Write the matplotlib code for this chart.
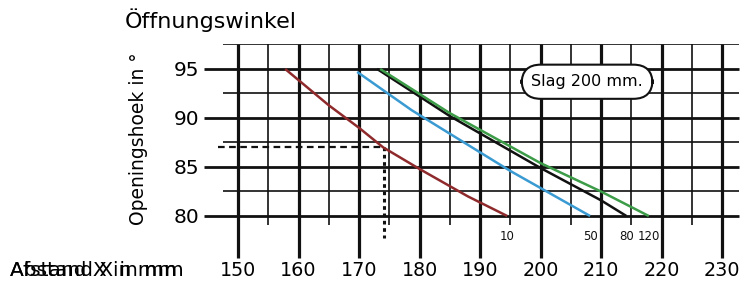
import matplotlib
matplotlib.use("Agg")
import matplotlib.pyplot as plt
import numpy as np

# ---- data ----
x_ticks = [150, 160, 170, 180, 190, 200, 210, 220, 230]
x_tick_labels = ["150", "160", "170", "180", "190", "200", "210", "220", "230"]
y_ticks = [80, 85, 90, 95]
y_tick_labels = ["80", "85", "90", "95"]

red_x = [157.8, 165.0, 170.0, 174.0, 180.0, 188.0, 194.5]
red_y = [95.0, 91.3, 89.0, 87.0, 84.8, 82.0, 80.0]
blue_x = [169.7, 178.7, 185.0, 195.0, 208.2]
blue_y = [94.7, 90.8, 88.4, 84.6, 80.0]
black_x = [173.0, 185.0, 200.0, 210.0, 214.2]
black_y = [95.0, 90.2, 84.9, 81.6, 80.0]
green_x = [173.5, 185.0, 200.0, 210.0, 217.9]
green_y = [95.0, 90.5, 85.4, 82.5, 80.0]
curve_labels = ["10", "50", "80", "120"]

ref_x = 174.1
ref_y = 87.0

title = "Öffnungswinkel"
ylabel = "Openingshoek in °"
xlabel_1 = "Abstand X in mm"
xlabel_2 = "Afstand X in mm"
note = "Slag 200 mm."

# ---- figure ----
W, H = 745, 281
fig = plt.figure(figsize=(W / 100, H / 100), dpi=100)
plt.rcParams['font.family'] = ['DejaVu Sans']

xl = (144.0, 233.0)
yl = (75.5, 97.6)
# pixel mapping: px = 238 + (x-150)*6.05 ; py = 216 - (y-80)*9.8
px0 = 238 + (xl[0] - 150) * 6.05
px1 = 238 + (xl[1] - 150) * 6.05
py_top = 216 - (yl[1] - 80) * 9.8
py_bot = 216 - (yl[0] - 80) * 9.8
ax = fig.add_axes([px0 / W, (H - py_bot) / H, (px1 - px0) / W, (py_bot - py_top) / H])
ax.set_xlim(*xl)
ax.set_ylim(*yl)
for s in ax.spines.values():
    s.set_visible(False)

# grid
gc = "#111111"
ax.hlines(y_ticks, 144.3, 232.8, color=gc, lw=2.0, zorder=1)
ax.hlines([82.5, 87.5, 92.5, 97.5], 147.5, 232.8, color=gc, lw=1.2, zorder=1)
ax.vlines(x_ticks, 75.7, 97.5, color=gc, lw=2.3, zorder=1)
ax.vlines([155, 165, 175, 185, 195, 205, 215, 225], 79.1, 97.5, color=gc, lw=1.2, zorder=1)

# reference dashed lines
ax.plot([146.7, ref_x], [ref_y, ref_y], color="#111111", lw=1.6, ls=(0, (3, 2)), zorder=2)
ax.plot([ref_x, ref_x], [ref_y, 77.8], color="#111111", lw=2.2, ls=(0, (1.2, 1.2)), zorder=2)

# curves
cols = ["#8E2A2C", "#3A9AD2", "#111111", "#3C9C48"]
curves = [(red_x, red_y), (blue_x, blue_y), (black_x, black_y), (green_x, green_y)]
for (cx, cy), c in zip(curves, cols):
    ax.plot(cx, cy, color=c, lw=1.8, zorder=3, solid_capstyle='butt')
for (cx, cy), lab in zip(curves, curve_labels):
    ax.annotate(lab, xy=(cx[-1], 80), xytext=(0, -15), textcoords='offset points',
                ha='center', va='center', fontsize=8.5, color="#111111")

# ticks
ax.set_xticks(x_ticks)
ax.set_xticklabels(x_tick_labels, fontsize=13.8, va='baseline')
ax.set_yticks(y_ticks)
ax.set_yticklabels(y_tick_labels, fontsize=14.5)
# baseline of x tick labels at ~276.5 px; axes bottom at py_bot
ax.tick_params(axis='x', length=0, pad=(276.5 - py_bot) * 0.72)
ax.tick_params(axis='y', length=0, pad=2)

# note box
ax.text(207.7, 93.7, note, ha='center', va='center', fontsize=11.5, zorder=5,
        bbox=dict(boxstyle="round,pad=0.6,rounding_size=1.2", fc="white", ec="#111111", lw=1.5))

# texts
fig.text(125 / W, 1 - 28 / H, title, ha='left', va='baseline', fontsize=16)
fig.text(138 / W, 1 - 138.5 / H, ylabel, ha='center', va='center', rotation=90, fontsize=13.5)
fig.text(10 / W, 1 - 276.5 / H, xlabel_1, ha='left', va='baseline', fontsize=14.5)
fig.text(10 / W, 1 - 276.5 / H, xlabel_2, ha='left', va='baseline', fontsize=14.5)

fig.savefig("out.png", dpi=100, facecolor="white")
